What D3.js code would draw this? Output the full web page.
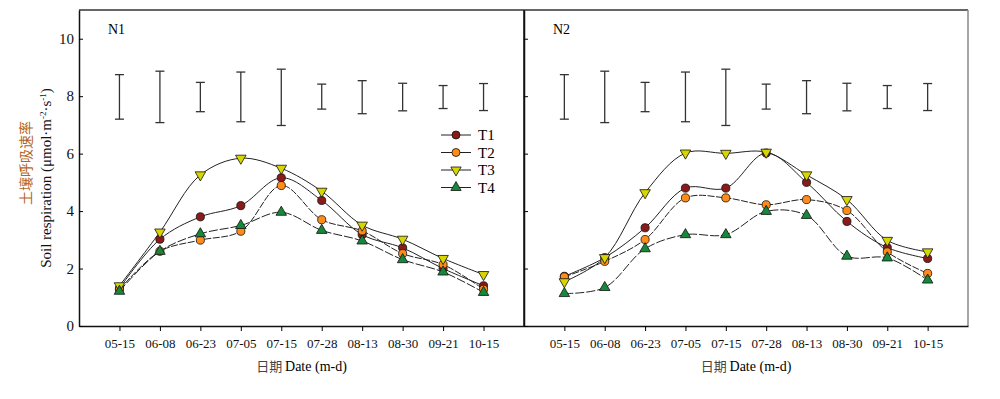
<!DOCTYPE html>
<html>
<head>
<meta charset="utf-8">
<script src="https://cdn.jsdelivr.net/npm/d3@7"></script>
<style>
  body { margin: 0; background: #fff; }
</style>
</head>
<body>
<div id="chart-area"></div>
<script>
const dates = ["05-15", "06-08", "06-23", "07-05", "07-15", "07-28", "08-13", "08-30", "09-21", "10-15"];
const yTicks = [0, 2, 4, 6, 8, 10];

// N1
const n1T1 = [1.31, 3.02, 3.80, 4.19, 5.16, 4.37, 3.18, 2.72, 2.00, 1.40];
const n1T2 = [1.27, 2.60, 2.99, 3.30, 4.89, 3.70, 3.31, 2.52, 2.14, 1.28];
const n1T3 = [1.40, 3.27, 5.26, 5.84, 5.49, 4.69, 3.51, 3.02, 2.35, 1.79];
const n1T4 = [1.21, 2.60, 3.21, 3.50, 3.96, 3.33, 2.96, 2.31, 1.88, 1.17];
const n1ErrHigh = [8.75, 8.87, 8.48, 8.84, 8.94, 8.42, 8.54, 8.45, 8.37, 8.44];
const n1ErrLow = [7.20, 7.08, 7.46, 7.11, 6.98, 7.55, 7.39, 7.49, 7.57, 7.50];

// N2
const n2T1 = [1.73, 2.38, 3.42, 4.80, 4.80, 6.02, 5.00, 3.64, 2.73, 2.35];
const n2T2 = [1.71, 2.25, 3.01, 4.46, 4.46, 4.22, 4.40, 4.02, 2.58, 1.83];
const n2T3 = [1.54, 2.38, 4.64, 6.02, 6.01, 6.05, 5.26, 4.40, 2.98, 2.58];
const n2T4 = [1.13, 1.34, 2.69, 3.18, 3.18, 3.99, 3.85, 2.43, 2.37, 1.60];
const n2ErrHigh = [8.75, 8.87, 8.48, 8.84, 8.94, 8.42, 8.54, 8.45, 8.37, 8.44];
const n2ErrLow = [7.20, 7.08, 7.46, 7.11, 6.98, 7.55, 7.39, 7.49, 7.57, 7.50];

const seriesNames = ["T1", "T2", "T3", "T4"];
const seriesColors = ["#8b1a1a", "#ff8c1a", "#d6d600", "#16883a"];
const seriesSymbols = [d3.symbolCircle, d3.symbolCircle, d3.symbolTriangle, d3.symbolTriangle];

const serif = "'Liberation Serif', 'Times New Roman', 'DejaVu Serif', serif";
const cjk = "'Noto Sans CJK SC', sans-serif";

const canvasWidth = 1000;
const canvasHeight = 399;
const panelTop = 10, panelBottom = 326;
const chartHeight = panelBottom - panelTop;

const canvas = d3.select("#chart-area").append("svg")
  .attr("width", canvasWidth).attr("height", canvasHeight)
  .attr("font-family", serif);

const yScale = d3.scaleLinear().domain([0, 11]).range([chartHeight, 0]);

function drawPanel(left, width, name, series, errHigh, errLow, showLabels, showLegend) {
  const g = canvas.append("g").attr("transform", `translate(${left}, ${panelTop})`);
  const xScale = d3.scalePoint().domain(dates).range([0, width]).padding(1);

  // frame
  g.append("line").attr("x1", 0).attr("x2", width).attr("y1", 0).attr("y2", 0)
    .attr("stroke", "#333").attr("stroke-width", 1.5);
  g.append("line").attr("x1", width).attr("x2", width).attr("y1", 0).attr("y2", chartHeight)
    .attr("stroke", showLegend ? "#111" : "#888").attr("stroke-width", 1.5);

  const xAxis = d3.axisBottom(xScale).tickSizeInner(5).tickSizeOuter(0).tickPadding(8);
  const xg = g.append("g").attr("transform", `translate(0, ${chartHeight})`).call(xAxis);
  xg.selectAll("text").attr("font-family", serif).attr("font-size", "13px").attr("fill", "#111");

  const yAxis = d3.axisLeft(yScale).tickValues(yTicks).tickSizeInner(-4).tickSizeOuter(0).tickPadding(5)
    .tickFormat(showLabels ? d3.format("d") : () => "");
  const yg = g.append("g").call(yAxis);
  yg.selectAll("text").attr("font-family", serif).attr("font-size", "15px").attr("fill", "#111");
  g.selectAll(".domain").attr("stroke-width", 1.5).attr("stroke", "#111");

  g.append("text").attr("x", 29).attr("y", 24).attr("font-size", "14px").text(name);

  // error bars
  const cap = 4.5;
  const errs = g.append("g").attr("stroke", "#333").attr("stroke-width", 1.3);
  dates.forEach((d, i) => {
    const x = xScale(d);
    errs.append("line").attr("x1", x).attr("x2", x)
      .attr("y1", yScale(errHigh[i])).attr("y2", yScale(errLow[i]));
    errs.append("line").attr("x1", x - cap).attr("x2", x + cap)
      .attr("y1", yScale(errHigh[i])).attr("y2", yScale(errHigh[i]));
    errs.append("line").attr("x1", x - cap).attr("x2", x + cap)
      .attr("y1", yScale(errLow[i])).attr("y2", yScale(errLow[i]));
  });

  const line = d3.line()
    .x((v, i) => xScale(dates[i]))
    .y(v => yScale(v))
    .curve(d3.curveCatmullRom.alpha(0.5));
  const dashes = [null, "7,1.5", null, "9,2"];

  series.forEach((vals, k) => {
    g.append("path").datum(vals).attr("d", line)
      .attr("fill", "none").attr("stroke", "#222").attr("stroke-width", 1)
      .attr("stroke-dasharray", dashes[k]);
  });

  series.forEach((vals, k) => {
    const sym = d3.symbol().type(seriesSymbols[k]).size(k < 2 ? 52 : 48);
    g.selectAll(null).data(vals).enter().append("path")
      .attr("d", sym)
      .attr("transform", (v, i) => `translate(${xScale(dates[i])}, ${yScale(v)})${k === 2 ? " rotate(180)" : ""}`)
      .attr("fill", seriesColors[k]).attr("stroke", "#111").attr("stroke-width", 0.8);
  });

  const xTitle = g.append("text")
    .attr("x", width / 2).attr("y", 361)
    .attr("text-anchor", "middle").attr("font-size", "14px");
  xTitle.append("tspan").attr("font-family", cjk).attr("font-size", "13px").attr("fill", "#444").text("日期 ");
  xTitle.append("tspan").text("Date (m-d)");

  if (showLegend) {
    const lg = g.append("g").attr("transform", "translate(362, 125)");
    seriesNames.forEach((s, k) => {
      const row = lg.append("g").attr("transform", `translate(0, ${k * 17.5})`);
      row.append("line").attr("x1", 0).attr("x2", 30).attr("stroke", "#222").attr("stroke-width", 1);
      row.append("path").attr("d", d3.symbol().type(seriesSymbols[k]).size(k < 2 ? 50 : 46)())
        .attr("transform", `translate(15, 0)${k === 2 ? " rotate(180)" : ""}`)
        .attr("fill", seriesColors[k]).attr("stroke", "#111").attr("stroke-width", 0.8);
      row.append("text").attr("x", 37).attr("y", 5).attr("font-family", serif)
        .attr("font-size", "15px").text(s);
    });
  }
}

drawPanel(79, 445, "N1", [n1T1, n1T2, n1T3, n1T4], n1ErrHigh, n1ErrLow, true, true);
drawPanel(524, 444, "N2", [n2T1, n2T2, n2T3, n2T4], n2ErrHigh, n2ErrLow, false, false);

// y axis title
canvas.append("text")
  .attr("transform", "translate(31, 163) rotate(-90)")
  .attr("text-anchor", "middle").attr("font-size", "14px").attr("fill", "#b5651d")
  .attr("font-family", cjk)
  .text("土壤呼吸速率");

const yTitle2 = canvas.append("text")
  .attr("transform", "translate(51, 178) rotate(-90)")
  .attr("text-anchor", "middle").attr("font-size", "15px").attr("fill", "#111");
yTitle2.append("tspan").text("Soil respiration (μmol·m");
yTitle2.append("tspan").attr("font-size", "9px").attr("dy", -5).text("-2");
yTitle2.append("tspan").attr("dy", 5).text("·s");
yTitle2.append("tspan").attr("font-size", "9px").attr("dy", -5).text("-1");
yTitle2.append("tspan").attr("dy", 5).text(")");
</script>
</body>
</html>
